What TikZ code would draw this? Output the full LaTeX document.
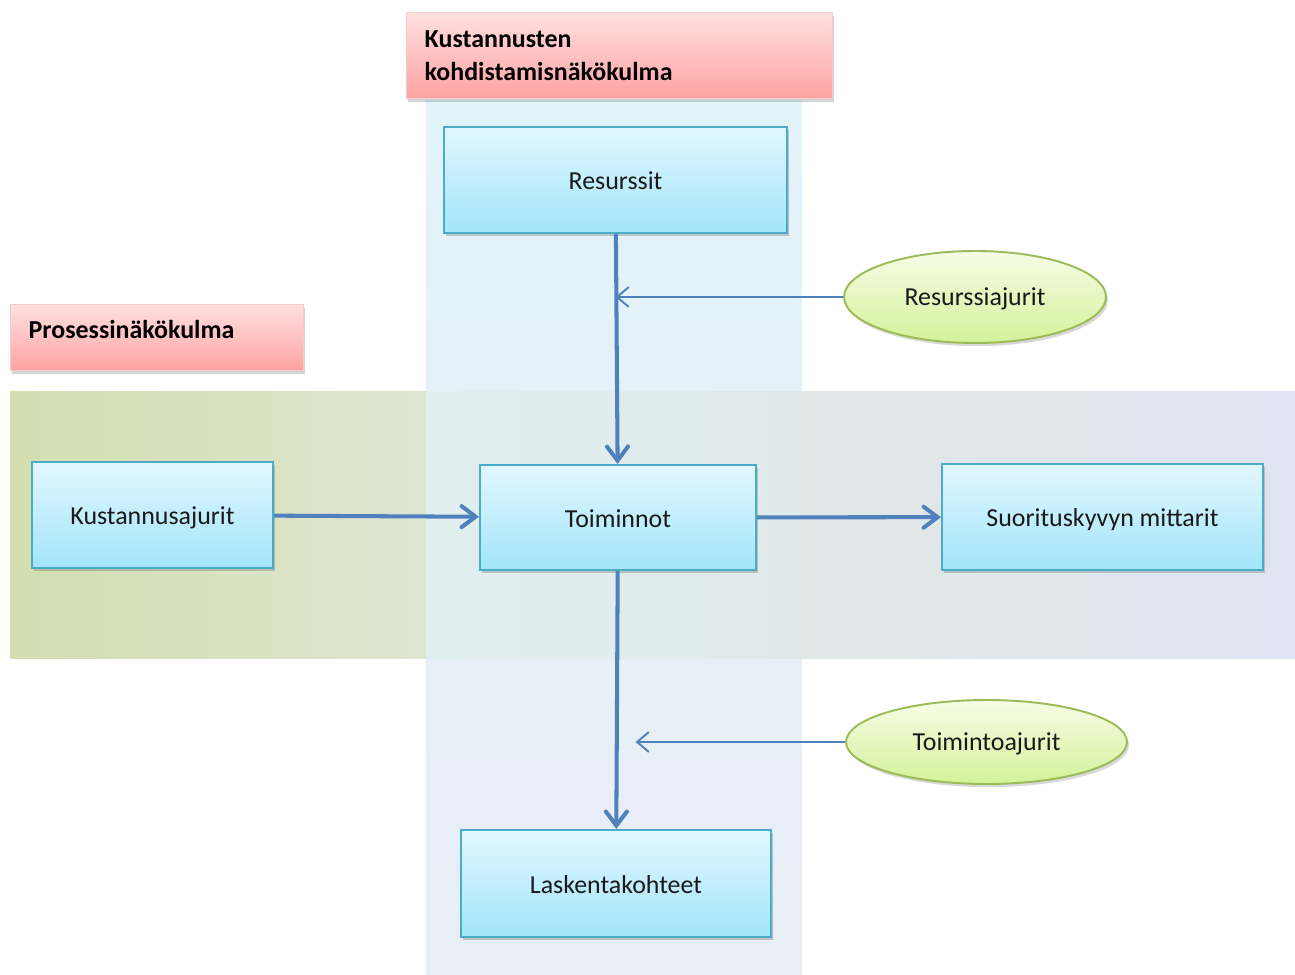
\documentclass[tikz,border=0pt]{standalone}
\usepackage{fontspec}
\setmainfont{Carlito}
\usepackage{xcolor}
\usepackage{tikz}
\usetikzlibrary{arrows.meta,shapes.geometric,shadows}
\definecolor{boxTop}{HTML}{E2F7FE}
\definecolor{boxBot}{HTML}{A2E5FB}
\definecolor{boxLine}{HTML}{4BACC6}
\definecolor{ovalTop}{HTML}{F6FCE6}
\definecolor{ovalBot}{HTML}{D4F299}
\definecolor{ovalLine}{HTML}{9BBB59}
\definecolor{tagTop}{HTML}{FFE0E0}
\definecolor{tagBot}{HTML}{FFA2A2}
\definecolor{tagLine}{HTML}{F4CACA}
\definecolor{arrBlue}{HTML}{4F81BD}
\definecolor{bandGreen}{HTML}{D3DEB0}
\definecolor{bandMid}{HTML}{E4E9E3}
\definecolor{bandBlue}{HTML}{DEE4F1}
\definecolor{colTop}{HTML}{E2F3FA}
\definecolor{colBot}{HTML}{E9EDF6}
\definecolor{crossL}{HTML}{E1EFEE}
\definecolor{crossR}{HTML}{E0E9EA}

\begin{document}
\begin{tikzpicture}[
  x=0.02cm, y=-0.02cm,
  box/.style={
    rectangle, draw=boxLine, line width=1.2pt,
    top color=boxTop, bottom color=boxBot,
    minimum height=2.12cm, inner sep=4pt,
    text height=11.5pt, text depth=0.5pt,
    font=\fontsize{14.75}{18}\selectfont, text=black!90,
    drop shadow={shadow xshift=1.2pt, shadow yshift=-1.8pt, opacity=0.4}
  },
  oval/.style={
    ellipse, draw=ovalLine, line width=1.1pt,
    top color=ovalTop, bottom color=ovalBot, inner sep=0pt,
    text height=11pt, text depth=1pt,
    font=\fontsize{14.75}{18}\selectfont, text=black!90,
    drop shadow={shadow xshift=1.2pt, shadow yshift=-1.8pt, opacity=0.3}
  },
  tag/.style={
    rectangle, draw=tagLine, line width=0.8pt,
    top color=tagTop, bottom color=tagBot,
    anchor=north west, inner xsep=0.36cm, align=left,
    font=\fontsize{14.75}{18.8}\selectfont\bfseries, text=black,
    drop shadow={shadow xshift=1pt, shadow yshift=-1.8pt, opacity=0.35}
  },
  flow/.style={-{Straight Barb[length=8pt,width=12pt,line cap=round]}, line width=2.3pt, arrBlue},
  feed/.style={-{Straight Barb[length=6.5pt,width=11pt,line cap=round]}, line width=1.1pt, arrBlue},
]

\useasboundingbox (0,0) rectangle (1295,974);

% bands
\fill[top color=colTop, bottom color=colBot]
  (426,100) rectangle (802,974);
\fill[left color=bandGreen, right color=bandBlue, middle color=bandMid]
  (10,391) rectangle (1295,658);
\fill[left color=crossL, right color=crossR]
  (426,391) rectangle (802,658);

% view labels
\node[tag, minimum width=8.52cm, minimum height=1.72cm, text width=7.8cm] (alloc) at (406,12)
  {Kustannusten\\kohdistamisnäkökulma};
\node[tag, minimum width=5.86cm, minimum height=1.32cm, text width=5.14cm, text depth=0.34cm] (proc) at (10,304)
  {Prosessinäkökulma};

% boxes
\node[box, minimum width=6.86cm] (res) at (615.5,180) {Resurssit};
\node[box, minimum width=5.52cm, minimum height=2.1cm] (toim) at (618,517.5) {Toiminnot};
\node[box, minimum width=4.82cm] (kust) at (152.5,515) {Kustannusajurit};
\node[box, minimum width=6.42cm] (suor) at (1102.5,517) {Suorituskyvyn mittarit};
\node[box, minimum width=6.2cm, minimum height=2.14cm] (lask) at (616,883.5) {Laskentakohteet};

% drivers
\node[oval, minimum width=5.24cm, minimum height=1.84cm] (rdrv) at (975,297) {Resurssiajurit};
\node[oval, minimum width=5.62cm, minimum height=1.68cm] (tdrv) at (986.5,742) {Toimintoajurit};

% arrows
\draw[flow] (res) -- (toim);
\draw[flow] (kust) -- (toim);
\draw[flow] (toim) -- (suor);
\draw[flow] (toim) -- (lask);
\draw[feed] (rdrv.west) -- (rdrv.west -| res.south);
\draw[feed, shorten >=10pt] (tdrv.west) -- (tdrv.west -| toim.south);

\end{tikzpicture}
\end{document}
